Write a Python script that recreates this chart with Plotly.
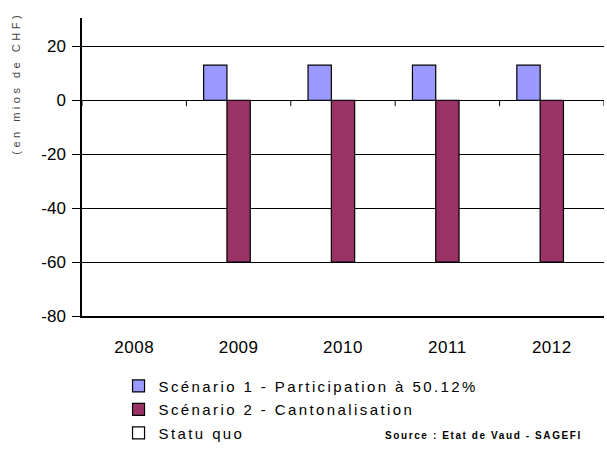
import plotly.graph_objects as go

# Data (millions de CHF)
years = ["2008", "2009", "2010", "2011", "2012"]
scenario1 = [0, 13, 13, 13, 13]
scenario2 = [0, -60, -60, -60, -60]
statu_quo = [0, 0, 0, 0, 0]
series_names = [
    "Scénario 1 - Participation à 50.12%",
    "Scénario 2 - Cantonalisation",
    "Statu quo",
]
series_colors = ["#9999FF", "#993366", "#FFFFFF"]
y_ticks = [-80, -60, -40, -20, 0, 20]

FONT = "Liberation Sans, Arial, sans-serif"


def spaced(text, px):
    return f'<span style="letter-spacing:{px}px">{text}</span>'


fig = go.Figure()
for name, vals, col in zip(series_names, [scenario1, scenario2, statu_quo], series_colors):
    # zero-height bars are left empty so no outline is drawn
    shown = [v if v != 0 else None for v in vals]
    fig.add_trace(go.Bar(
        x=years, y=shown, name=spaced(name, 2.4),
        marker=dict(color=col, line=dict(color="#000000", width=1.2)),
        legendgroup=name,
    ))

# category-axis tick marks along the zero line, between categories
for i in range(len(years) + 1):
    fig.add_shape(type="line", xref="x", yref="y",
                  x0=i - 0.5, x1=i - 0.5, y0=0, y1=-2.2,
                  line=dict(color="#000000", width=1))

fig.add_annotation(
    text=spaced("(en mios de CHF)", 3.5), textangle=-90,
    xref="paper", yref="paper", x=-0.128, y=0.78,
    xanchor="center", yanchor="middle",
    showarrow=False, font=dict(family=FONT, size=11, color="#444444"),
)
fig.add_annotation(
    text=spaced("<b>Source : Etat de Vaud - SAGEFI</b>", 1.6),
    xref="paper", yref="paper", x=0.962, y=-0.40, xanchor="right", yanchor="middle",
    showarrow=False, font=dict(family=FONT, size=10, color="#000000"),
)

fig.update_layout(
    width=607, height=459,
    margin=dict(l=82, r=3, t=18, b=143),
    paper_bgcolor="#FFFFFF", plot_bgcolor="#FFFFFF",
    barmode="group", bargap=0.33, bargroupgap=0,
    font=dict(family=FONT, size=14, color="#000000"),
    legend=dict(
        orientation="v", x=0.07, y=-0.18, xanchor="left", yanchor="top",
        font=dict(family=FONT, size=15, color="#000000"),
        bgcolor="rgba(0,0,0,0)", tracegroupgap=1, itemwidth=30,
    ),
    showlegend=True,
)
fig.update_xaxes(
    type="category", range=[-0.5, len(years) - 0.5],
    showgrid=False, zeroline=False, showline=True, linecolor="#000000", linewidth=1.5,
    ticks="", ticklabelstandoff=15,
    tickfont=dict(family=FONT, size=17, color="#000000"),
    tickvals=years, ticktext=[spaced(t, 0.5) for t in years],
)
fig.update_yaxes(
    range=[-80, 30.5], tickvals=y_ticks, ticktext=[str(v) for v in y_ticks],
    showgrid=True, gridcolor="#000000", gridwidth=1,
    zeroline=False, showline=True, linecolor="#000000", linewidth=1.5,
    ticks="outside", ticklen=8, tickcolor="#000000", ticklabelstandoff=3,
    tickfont=dict(family=FONT, size=17, color="#000000"),
)

fig.write_html("out.html")
